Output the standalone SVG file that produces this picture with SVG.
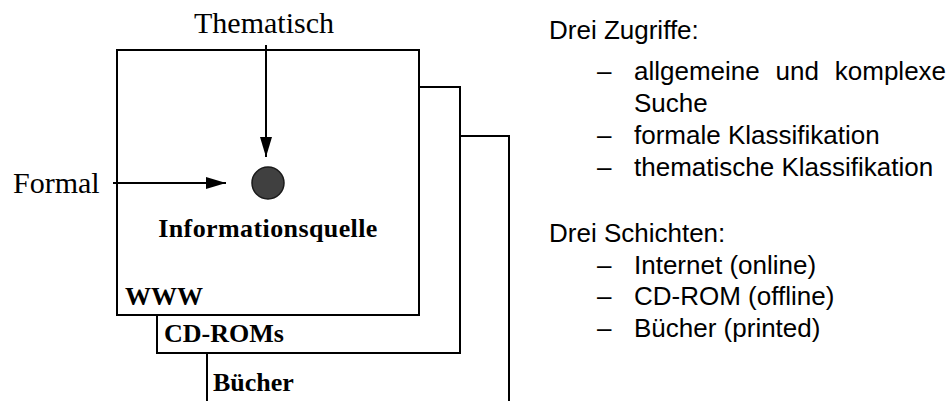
<svg xmlns="http://www.w3.org/2000/svg" width="950" height="401" viewBox="0 0 950 401">
<style>
.box{fill:#fff;stroke:#000;stroke-width:2}
.lbl{font-family:"Liberation Serif",serif;font-weight:bold;font-size:26px;fill:#000}
.ser{font-family:"Liberation Serif",serif;font-size:30px;fill:#000}
.txt{font-family:"Liberation Sans",Arial,sans-serif;font-size:26px;fill:#000}
.con{stroke:#000;stroke-width:2;fill:none}
</style>
<defs>
<marker id="ah" viewBox="0 0 20 12" refX="20" refY="6" markerWidth="20" markerHeight="12" markerUnits="userSpaceOnUse" orient="auto">
<path d="M0,0 L20,6 L0,12 Z" fill="#000"/>
</marker>
</defs>
<rect width="950" height="401" fill="#fff"/>
<g id="buecher">
<rect class="box" x="207" y="136" width="302" height="290"/>
<text class="lbl" x="213" y="391">Bücher</text>
</g>
<g id="cdroms">
<rect class="box" x="157" y="87" width="303" height="266"/>
<text class="lbl" x="164" y="342">CD-ROMs</text>
</g>
<g id="www">
<rect class="box" x="117" y="50" width="302" height="265"/>
<text class="lbl" x="125" y="305" font-size="25">WWW</text>
</g>
<g id="quelle">
<circle cx="268" cy="183" r="16" fill="#404040" stroke="#1a1a1a" stroke-width="1.5"/>
<text class="lbl" x="268" y="237" text-anchor="middle" letter-spacing="0.4">Informationsquelle</text>
</g>
<g id="thematisch">
<text class="ser" x="264" y="33" text-anchor="middle">Thematisch</text>
</g>
<g id="formal">
<text class="ser" x="13" y="193">Formal</text>
</g>
<g id="connectors">
<line class="con" x1="266" y1="45" x2="266" y2="157" marker-end="url(#ah)"/>
<line class="con" x1="113" y1="183" x2="226" y2="183" marker-end="url(#ah)"/>
</g>
<g id="legend">
<text class="txt" x="549" y="39">Drei Zugriffe:</text>
<text class="txt" x="597" y="80">–</text>
<text class="txt" x="634" y="80" word-spacing="8.6">allgemeine und komplexe</text>
<text class="txt" x="634" y="112">Suche</text>
<text class="txt" x="597" y="144">–</text>
<text class="txt" x="634" y="144">formale Klassifikation</text>
<text class="txt" x="597" y="176">–</text>
<text class="txt" x="634" y="176">thematische Klassifikation</text>
<text class="txt" x="549" y="242">Drei Schichten:</text>
<text class="txt" x="597" y="274">–</text>
<text class="txt" x="634" y="274">Internet (online)</text>
<text class="txt" x="597" y="305">–</text>
<text class="txt" x="634" y="305">CD-ROM (offline)</text>
<text class="txt" x="597" y="337">–</text>
<text class="txt" x="634" y="337">Bücher (printed)</text>
</g>
</svg>
